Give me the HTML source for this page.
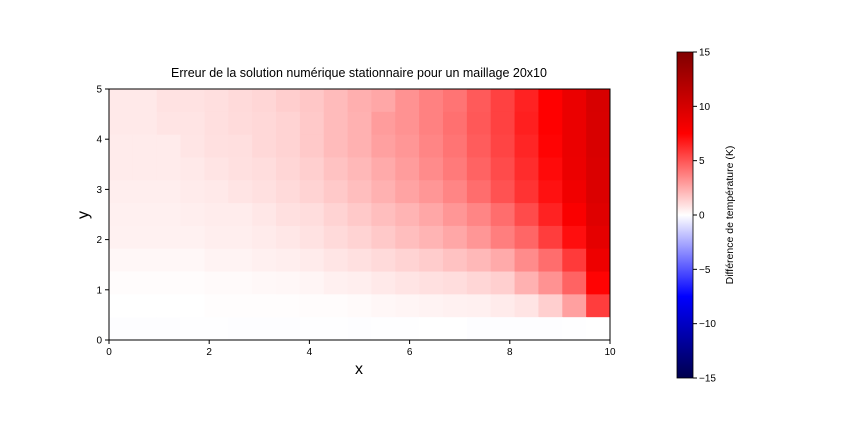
<!DOCTYPE html>
<html><head><meta charset="utf-8"><style>
body{margin:0;background:#fff}
svg{display:block;font-family:"Liberation Sans",sans-serif}
</style></head><body>
<svg id="c" width="864" height="432">
<defs><linearGradient id="cg" x1="0" y1="1" x2="0" y2="0">
<stop offset="0" stop-color="#00004d"/><stop offset="0.25" stop-color="#0000ff"/><stop offset="0.5" stop-color="#ffffff"/><stop offset="0.75" stop-color="#ff0000"/><stop offset="1" stop-color="#800000"/></linearGradient></defs>
<text x="359" y="77" font-size="12.5" text-anchor="middle">Erreur de la solution numérique stationnaire pour un maillage 20x10</text>
<g id="cells"></g>
<g id="axes"></g>
<text x="359" y="374" font-size="16" text-anchor="middle">x</text>
<text x="88" y="215" font-size="16" text-anchor="middle" transform="rotate(-90 88 215)">y</text>
<rect x="677" y="52" width="16" height="326" fill="url(#cg)" stroke="#000" stroke-width="0.8"/>
<g id="cbt"></g>
<text x="733" y="215" font-size="10.5" text-anchor="middle" transform="rotate(-90 733 215)">Différence de température (K)</text>
</svg>
<script>
// rows from y=5 (top) to y=0 (bottom), 21 columns each
const row10=[0.65,0.65,0.85,0.85,0.95,1.1,1.2,1.45,1.65,2.0,2.35,2.6,3.2,3.7,4.1,4.85,5.6,6.5,7.5,8.7,9.85];
const row9=[0.65,0.65,0.8,0.8,0.95,1.05,1.15,1.3,1.6,2.0,2.3,2.9,3.2,3.7,4.2,4.9,5.6,6.6,7.5,8.7,9.8];
const row8=[0.6,0.6,0.6,0.75,0.9,0.95,1.15,1.3,1.6,2.0,2.3,2.8,3.1,3.6,4.1,4.8,5.5,6.4,7.4,8.7,9.8];
const row7=[0.6,0.6,0.6,0.65,0.8,0.9,1.0,1.2,1.4,1.8,2.1,2.5,2.9,3.4,3.9,4.6,5.3,6.2,7.2,8.6,9.7];
const row6=[0.5,0.5,0.5,0.6,0.65,0.8,0.9,1.1,1.3,1.6,1.9,2.3,2.7,3.1,3.6,4.3,5.1,6.0,7.0,8.3,9.6];
const row5=[0.45,0.45,0.45,0.5,0.55,0.55,0.7,0.9,1.0,1.3,1.6,1.9,2.2,2.6,3.1,3.6,4.3,5.3,6.5,7.8,9.4];
const row4=[0.4,0.4,0.4,0.4,0.5,0.5,0.6,0.7,0.85,1.1,1.3,1.6,1.9,2.2,2.6,3.1,3.8,4.5,5.7,7.1,9.0];
const row3=[0.25,0.25,0.25,0.25,0.35,0.35,0.45,0.5,0.6,0.75,0.9,1.1,1.3,1.5,1.8,2.1,2.5,3.4,4.3,5.8,8.5];
const row2=[0.1,0.1,0.1,0.1,0.15,0.15,0.2,0.25,0.3,0.45,0.5,0.65,0.8,0.9,1.0,1.2,1.4,2.3,3.2,4.6,7.4];
const row1=[0,0,0,0,0.05,0.05,0.05,0.05,0.1,0.1,0.15,0.25,0.3,0.35,0.4,0.45,0.6,0.8,1.4,2.8,5.7];
const row0=[-0.05,-0.05,-0.05,-0.03,-0.03,-0.05,-0.05,-0.05,-0.03,-0.03,-0.05,-0.03,-0.03,0,0,-0.05,-0.05,-0.05,-0.05,-0.03,0];
const xTicks=[0,2,4,6,8,10];
const yTicks=[0,1,2,3,4,5];
const cbTicks=[-15,-10,-5,0,5,10,15];
const rows=[row10,row9,row8,row7,row6,row5,row4,row3,row2,row1,row0];
const NS="http://www.w3.org/2000/svg";
const X0=109,X1=610,Y0=89,Y1=340;
const sx=v=>X0+(v/10)*(X1-X0), sy=v=>Y1-(v/5)*(Y1-Y0);
function cmap(v){
  let t=(v+15)/30; t=Math.max(0,Math.min(1,t));
  let r,g,b;
  if(t<0.25){r=0;g=0;b=0.3+0.7*t/0.25;}
  else if(t<0.5){let u=(t-0.25)/0.25;r=u;g=u;b=1;}
  else if(t<0.75){let u=(t-0.5)/0.25;r=1;g=1-u;b=1-u;}
  else {let u=(t-0.75)/0.25;r=1-0.5*u;g=0;b=0;}
  return `rgb(${Math.round(r*255)},${Math.round(g*255)},${Math.round(b*255)})`;
}
const cells=document.getElementById('cells');
const nc=21,nr=11,cw=(X1-X0)/nc,ch=(Y1-Y0)/nr;
rows.forEach((row,ri)=>{row.forEach((v,ci)=>{
  const r=document.createElementNS(NS,'rect');
  r.setAttribute('x',X0+ci*cw);r.setAttribute('y',Y0+ri*ch);
  r.setAttribute('width',cw+0.5);r.setAttribute('height',ch+0.5);
  r.setAttribute('fill',cmap(v));
  
  
  cells.appendChild(r);
});});
const ax=document.getElementById('axes');
function add(tag,attrs,txt){const e=document.createElementNS(NS,tag);for(const k in attrs)e.setAttribute(k,attrs[k]);if(txt!==undefined)e.textContent=txt;return e;}
const frame=add('rect',{x:X0,y:Y0,width:X1-X0,height:Y1-Y0,fill:'none',stroke:'#000','stroke-width':1});


ax.appendChild(frame);
xTicks.forEach(t=>{const x=sx(t);
  const l=add('line',{x1:x,x2:x,y1:Y1,y2:Y1+4,stroke:'#000'});
  
  
  ax.appendChild(l);
  const tx=add('text',{x:x,y:Y1+15,'font-size':10,'text-anchor':'middle'},String(t));
  
  
  ax.appendChild(tx);});
yTicks.forEach(t=>{const y=sy(t);
  const l=add('line',{x1:X0-4,x2:X0,y1:y,y2:y,stroke:'#000'});
  
  
  ax.appendChild(l);
  const tx=add('text',{x:X0-7,y:y+3.5,'font-size':10,'text-anchor':'end'},String(t));
  
  
  ax.appendChild(tx);});
const cb=document.getElementById('cbt');
cbTicks.forEach(t=>{const y=378-(t+15)/30*326;
  const l=add('line',{x1:693,x2:697,y1:y,y2:y,stroke:'#000'});
  
  
  cb.appendChild(l);
  const tx=add('text',{x:699,y:y+3.5,'font-size':10},t<0?'\u2212'+(-t):String(t));
  
  
  cb.appendChild(tx);});
</script>
</body></html>
